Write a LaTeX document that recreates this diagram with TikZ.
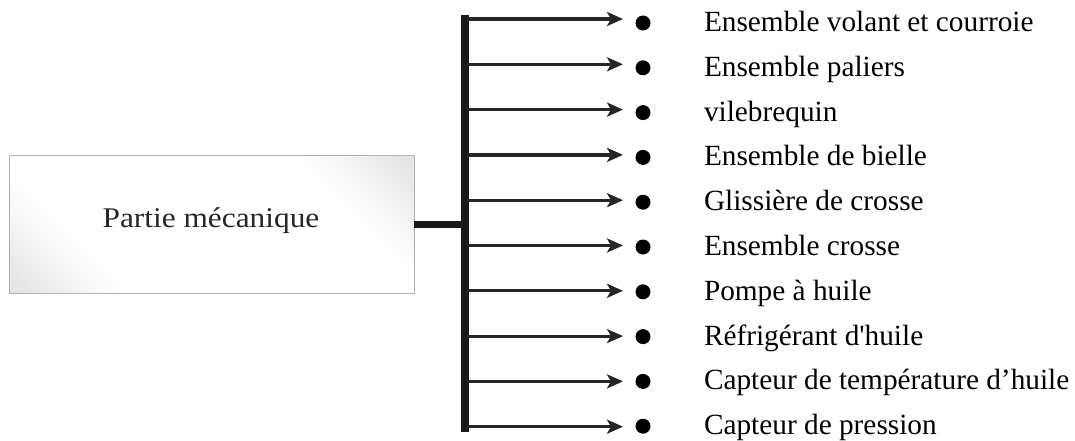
\documentclass[tikz,border=0pt]{standalone}
\usepackage{fontspec}
\setmainfont{Liberation Serif}[Ligatures=TeXOff]
\newfontfamily\boxfont{Liberation Serif}[FakeStretch=1.1, Ligatures=TeXOff]
\usetikzlibrary{arrows.meta}
\pgfdeclarehorizontalshading{boxsh}{100bp}{color(0bp)=(gray!45); color(30bp)=(white); color(70bp)=(white); color(100bp)=(gray!45)}
\begin{document}
\begin{tikzpicture}[x=1pt,y=-1pt,
  every node/.style={inner sep=0pt, outer sep=0pt},
  mainbox/.style={draw=gray!60, line width=1pt, shading=boxsh, shading angle=45,
    minimum width=405pt, minimum height=138pt},
  itemtext/.style={anchor=base west, font=\fontsize{29.3}{35}\selectfont},
  bulletdot/.style={circle, fill=black, minimum size=15pt},
  arr/.style={draw=black!85, line width=3.2pt, -{Stealth[length=16pt,width=14pt,inset=4pt]}},
  busline/.style={draw=black!90, line width=8pt},
  joinline/.style={draw=black!90, line width=7pt}]
\useasboundingbox (0,0) rectangle (1075,441);
\node[mainbox] (box) at (211.5,224) {};
\node[anchor=base, font=\boxfont\fontsize{28.5}{34}\selectfont, text=black!85] (lbl) at (211,227) {Partie mécanique};
\coordinate (bustop) at (465,15);
\coordinate (busbot) at (465,432);
\draw[busline] (bustop) -- (busbot);
\draw[joinline] (box.east) -- (box.east -| bustop);
\foreach \t [count=\i from 0] in {Ensemble volant et courroie, Ensemble paliers, vilebrequin, Ensemble de bielle, Glissière de crosse, Ensemble crosse, Pompe à huile, Réfrigérant d'huile, Capteur de température d’huile, Capteur de pression}{
  \node[bulletdot] (b\i) at (643,{23+44.8*\i}) {};
  \node[itemtext] (t\i) at (704,{31.5+44.8*\i}) {\t};
  \coordinate (s\i) at (467,{19+45.3*\i});
  \draw[arr, shorten >=12.5pt] (s\i) -- (s\i -| b\i.west);
}
\end{tikzpicture}
\end{document}
